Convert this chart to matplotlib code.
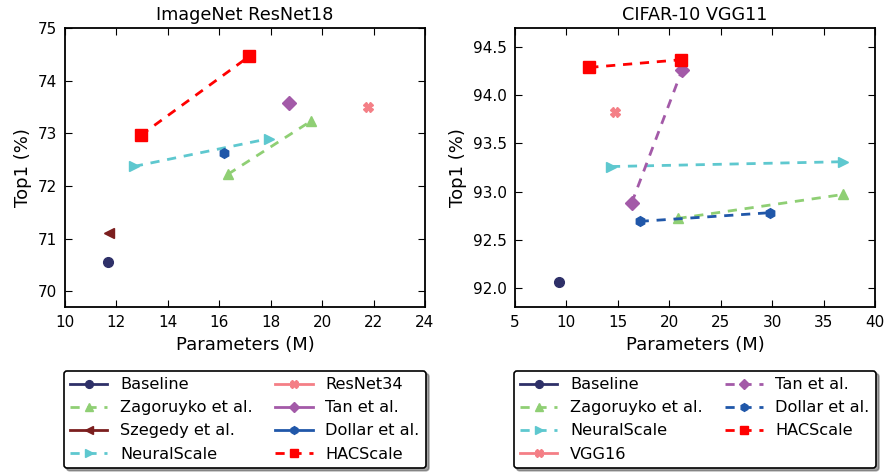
import matplotlib
matplotlib.use("Agg")
import matplotlib.pyplot as plt
from matplotlib.ticker import FormatStrFormatter

# ── data ──────────────────────────────────────────────────────────────────────
# ImageNet ResNet18: (params M, top1 %)
in_baseline_x, in_baseline_y = [11.69], [70.55]
in_zago_x, in_zago_y = [16.33, 19.56], [72.22, 73.23]
in_szeg_x, in_szeg_y = [11.73], [71.11]
in_neural_x, in_neural_y = [12.68, 17.95], [72.37, 72.90]
in_resnet34_x, in_resnet34_y = [21.8], [73.50]
in_tan_x, in_tan_y = [18.73], [73.57]
in_dollar_x, in_dollar_y = [16.2], [72.62]
in_hac_x, in_hac_y = [12.94, 17.16], [72.96, 74.46]

# CIFAR-10 VGG11
c_baseline_x, c_baseline_y = [9.25], [92.06]
c_zago_x, c_zago_y = [20.8, 36.9], [92.72, 92.97]
c_neural_x, c_neural_y = [14.33, 36.85], [93.26, 93.31]
c_vgg16_x, c_vgg16_y = [14.75], [93.83]
c_tan_x, c_tan_y = [16.34, 21.23], [92.88, 94.26]
c_dollar_x, c_dollar_y = [17.12, 29.75], [92.69, 92.78]
c_hac_x, c_hac_y = [12.22, 21.13], [94.29, 94.37]

C_BASE = "#2e3068"
C_ZAGO = "#8fcf74"
C_SZEG = "#7b1e1e"
C_NEUR = "#5ec8cf"
C_PINK = "#f47f86"
C_TAN = "#a35aa8"
C_DOLL = "#2057a9"
C_HAC = "#ff0000"

plt.rcParams.update({
    "xtick.direction": "in", "ytick.direction": "in",
    "xtick.top": True, "ytick.right": True,
    "xtick.major.size": 5, "ytick.major.size": 5,
    "xtick.major.pad": 6, "ytick.major.pad": 6,
    "axes.linewidth": 1.3,
    "font.size": 11,
})


def series(ax, x, y, color, marker, label, ms=7):
    if len(x) > 1:
        ax.plot(x, y, "--", color=color, marker=marker, ms=ms, lw=2,
                mec=color, label=label, dashes=(3.3, 2.8))
    else:
        ax.plot(x, y, "-", color=color, marker=marker, ms=ms, lw=2,
                mec=color, label=label)


fig = plt.figure(figsize=(8.85, 4.74), dpi=100)
ax1 = fig.add_axes([65 / 885, 1 - 307 / 474, 360 / 885, 279 / 474])
ax2 = fig.add_axes([515 / 885, 1 - 307 / 474, 360 / 885, 279 / 474])

series(ax1, in_baseline_x, in_baseline_y, C_BASE, "o", "Baseline")
series(ax1, in_zago_x, in_zago_y, C_ZAGO, "^", "Zagoruyko et al.")
series(ax1, in_szeg_x, in_szeg_y, C_SZEG, "<", "Szegedy et al.")
series(ax1, in_neural_x, in_neural_y, C_NEUR, ">", "NeuralScale")
series(ax1, in_resnet34_x, in_resnet34_y, C_PINK, "X", "ResNet34")
series(ax1, in_tan_x, in_tan_y, C_TAN, "D", "Tan et al.")
series(ax1, in_dollar_x, in_dollar_y, C_DOLL, "h", "Dollar et al.")
series(ax1, in_hac_x, in_hac_y, C_HAC, "s", "HACScale", ms=8)

series(ax2, c_baseline_x, c_baseline_y, C_BASE, "o", "Baseline")
series(ax2, c_zago_x, c_zago_y, C_ZAGO, "^", "Zagoruyko et al.")
series(ax2, c_neural_x, c_neural_y, C_NEUR, ">", "NeuralScale")
series(ax2, c_vgg16_x, c_vgg16_y, C_PINK, "X", "VGG16")
series(ax2, c_tan_x, c_tan_y, C_TAN, "D", "Tan et al.")
series(ax2, c_dollar_x, c_dollar_y, C_DOLL, "h", "Dollar et al.")
series(ax2, c_hac_x, c_hac_y, C_HAC, "s", "HACScale", ms=8)

ax1.set_xlim(10, 24)
ax1.set_ylim(69.7, 75)
ax1.set_xticks(range(10, 25, 2))
ax1.set_yticks(range(70, 76))
ax1.set_title("ImageNet ResNet18", fontsize=12.7)

ax2.set_xlim(5, 40)
ax2.set_ylim(91.8, 94.7)
ax2.set_xticks(range(5, 41, 5))
ax2.set_yticks([92.0, 92.5, 93.0, 93.5, 94.0, 94.5])
ax2.yaxis.set_major_formatter(FormatStrFormatter("%.1f"))
ax2.set_title("CIFAR-10 VGG11", fontsize=12.7)

for ax in (ax1, ax2):
    ax.set_xlabel("Parameters (M)", fontsize=13)
    ax.set_ylabel("Top1 (%)", fontsize=13)
    leg = ax.legend(loc="upper center", bbox_to_anchor=(0.5, -0.229), ncol=2,
                    fontsize=11.6, shadow=True, frameon=True, handlelength=2.3,
                    markerscale=0.8, columnspacing=1.4, borderaxespad=0,
                    labelspacing=0.5)
    leg.get_frame().set_edgecolor("black")
    leg.get_frame().set_linewidth(1.2)
    leg.get_frame().set_alpha(1)

fig.savefig("out.png", dpi=100)
